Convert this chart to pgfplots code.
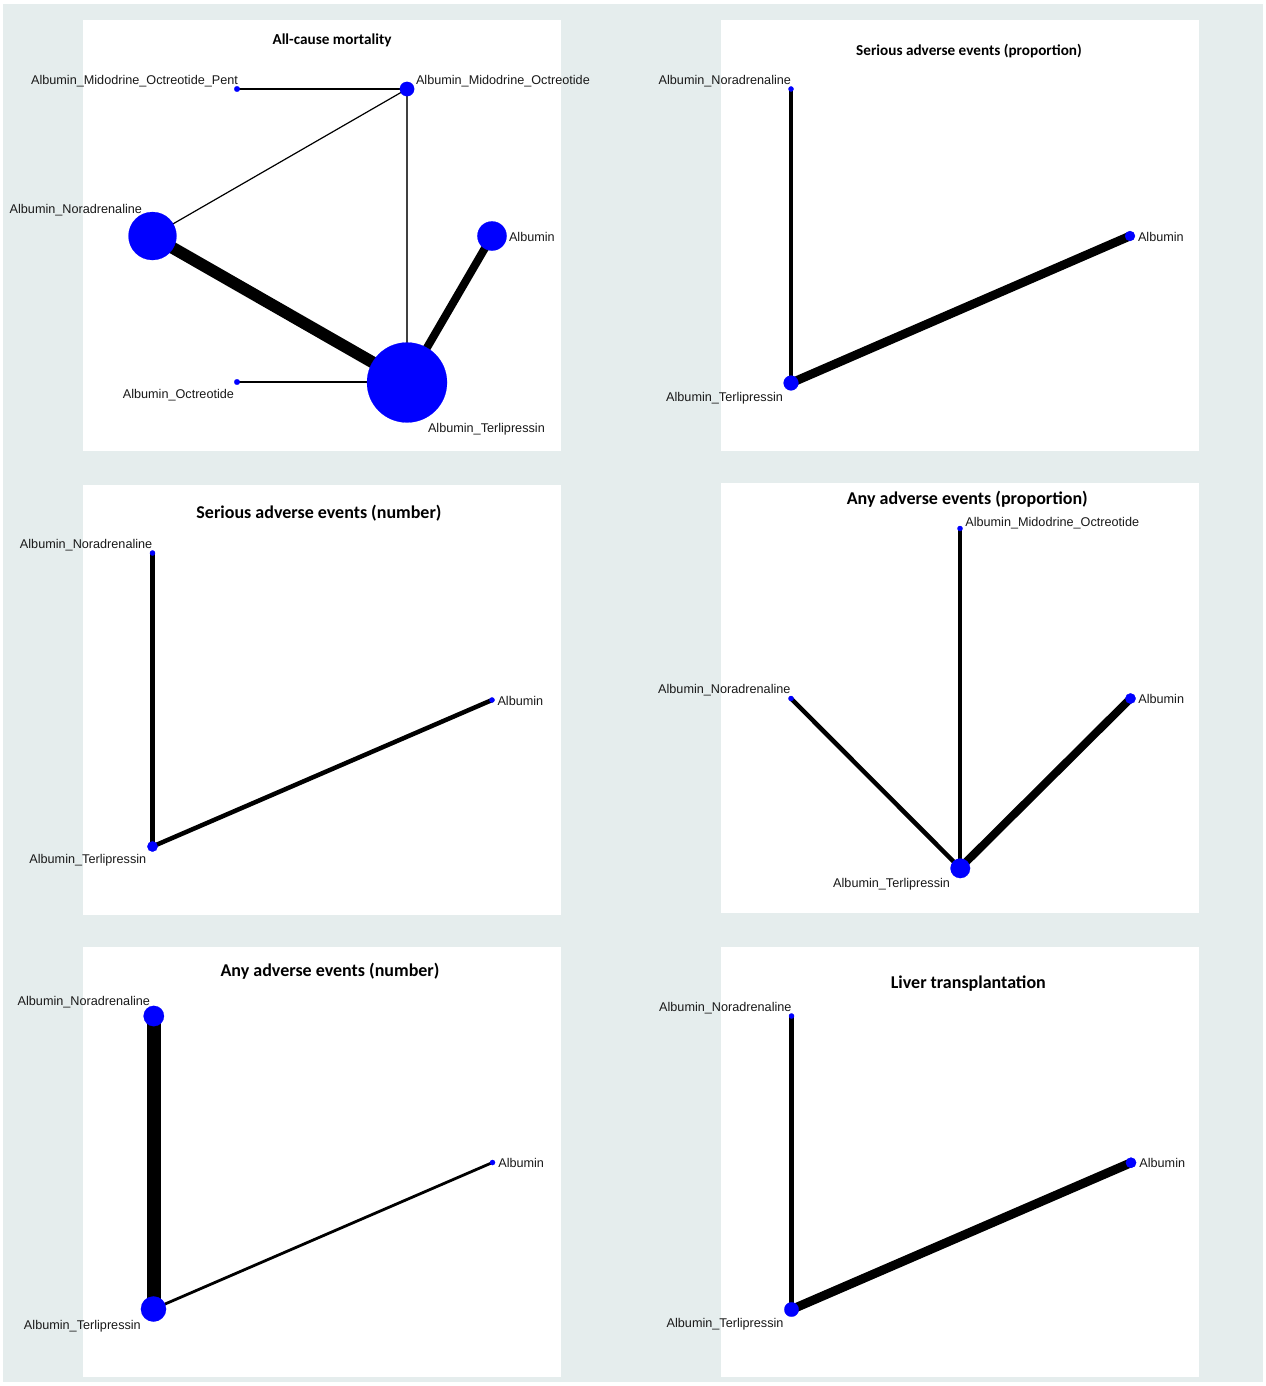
\documentclass[border=0pt]{standalone}
\usepackage{pgfplots}
\pgfplotsset{compat=1.18}
\usepackage{fontspec}
\setmainfont{Liberation Sans}
\newfontfamily\titlefont{Carlito}
\definecolor{bgc}{RGB}{229,237,237}
\definecolor{nodeblue}{RGB}{0,0,255}
\pgfplotsset{
  panel/.style={scale only axis, width=239pt, height=215.5pt, anchor=north west,
    y dir=reverse, clip=false, axis line style={draw=none}, xtick=\empty, ytick=\empty,
    axis background/.style={fill=white}},
  edge/.style={no markers, black, line cap=round, line width=#1},
  nd/.style={only marks, nodeblue, mark=*, mark options={draw=nodeblue, fill=nodeblue, line width=0.1pt}, mark size=#1},
}
\tikzset{
  lab/.style={inner sep=0pt, outer sep=0pt, font=\fontsize{6.33}{7}\selectfont, text=black!90},
  ttl/.style={inner sep=0pt, outer sep=0pt, anchor=base, font=\titlefont\bfseries\fontsize{#1}{10}\selectfont},
}
\begin{document}
\begin{tikzpicture}
\fill[white] (0pt,0pt) rectangle (632.5pt,-693pt);
\fill[bgc] (1.5pt,-2pt) rectangle (631.5pt,-691pt);

% Panel 1: All-cause mortality
\begin{axis}[panel, at={(41.5pt,-10pt)}, xmin=83, xmax=561, ymin=20, ymax=451]
\addplot[edge=0.75pt] coordinates {(237,89) (407,89)};
\addplot[edge=0.6pt] coordinates {(407,89) (152,236)};
\addplot[edge=0.6pt, black!75] coordinates {(407,89) (407,382)};
\addplot[edge=6pt] coordinates {(152,236) (407,382)};
\addplot[edge=4pt] coordinates {(492,236) (407,382)};
\addplot[edge=0.75pt] coordinates {(237,382) (407,382)};
\addplot[nd=1.4pt] coordinates {(237,89)};
\addplot[nd=3.6pt] coordinates {(407,89)};
\addplot[nd=12pt] coordinates {(152.5,236)};
\addplot[nd=7.3pt] coordinates {(492,236)};
\addplot[nd=1.4pt] coordinates {(237,382)};
\addplot[nd=20pt] coordinates {(407,382.5)};
\node[ttl=7.6] at (axis cs:332,44) {All-cause mortality};
\node[lab, anchor=base east] at (axis cs:238,84.5) {Albumin\_Midodrine\_Octreotide\_Pent};
\node[lab, anchor=base west] at (axis cs:416,84.5) {Albumin\_Midodrine\_Octreotide};
\node[lab, anchor=base east] at (axis cs:142,213.5) {Albumin\_Noradrenaline};
\node[lab, anchor=base west] at (axis cs:509,241) {Albumin};
\node[lab, anchor=base east] at (axis cs:234,398) {Albumin\_Octreotide};
\node[lab, anchor=base west] at (axis cs:428,432) {Albumin\_Terlipressin};
\end{axis}

% Panel 2: Serious adverse events (proportion)
\begin{axis}[panel, at={(360.5pt,-10pt)}, xmin=721, xmax=1199, ymin=20, ymax=451]
\addplot[edge=2.25pt] coordinates {(791,89) (791,383)};
\addplot[edge=4.4pt] coordinates {(1130,236) (791,383)};
\addplot[nd=1.3pt] coordinates {(791,89)};
\addplot[nd=2.5pt] coordinates {(1130,236)};
\addplot[nd=3.7pt] coordinates {(791,383)};
\node[ttl=7.6] at (axis cs:969,55) {Serious adverse events (proportion)};
\node[lab, anchor=base east] at (axis cs:791,84.5) {Albumin\_Noradrenaline};
\node[lab, anchor=base west] at (axis cs:1138,241) {Albumin};
\node[lab, anchor=base east] at (axis cs:783,401) {Albumin\_Terlipressin};
\end{axis}

% Panel 3: Serious adverse events (number)
\begin{axis}[panel, at={(41.5pt,-242.5pt)}, height=215pt, xmin=83, xmax=561, ymin=485, ymax=915]
\addplot[edge=2.25pt] coordinates {(152.5,553) (152.5,846.5)};
\addplot[edge=2.25pt] coordinates {(492,700) (152.5,846.5)};
\addplot[nd=1.3pt] coordinates {(152.5,553)};
\addplot[nd=1.3pt] coordinates {(492,700)};
\addplot[nd=2.6pt] coordinates {(152.5,846.5)};
\node[ttl=9] at (axis cs:319,518.5) {Serious adverse events (number)};
\node[lab, anchor=base east] at (axis cs:152.3,548.5) {Albumin\_Noradrenaline};
\node[lab, anchor=base west] at (axis cs:497.5,705) {Albumin};
\node[lab, anchor=base east] at (axis cs:146.2,863) {Albumin\_Terlipressin};
\end{axis}

% Panel 4: Any adverse events (proportion)
\begin{axis}[panel, at={(360.5pt,-241.5pt)}, height=215pt, xmin=721, xmax=1199, ymin=483, ymax=913]
\addplot[edge=2.25pt] coordinates {(960,528.5) (960,868)};
\addplot[edge=2.25pt] coordinates {(791,698.5) (960,868)};
\addplot[edge=4pt] coordinates {(1130.5,698.5) (960,868)};
\addplot[nd=1.3pt] coordinates {(960,528.5)};
\addplot[nd=1.3pt] coordinates {(791,698.5)};
\addplot[nd=2.6pt] coordinates {(1130.5,698.5)};
\addplot[nd=4.9pt] coordinates {(960.3,868.3)};
\node[ttl=9] at (axis cs:967.3,504) {Any adverse events (proportion)};
\node[lab, anchor=base west] at (axis cs:965.3,526) {Albumin\_Midodrine\_Octreotide};
\node[lab, anchor=base east] at (axis cs:790.5,693.5) {Albumin\_Noradrenaline};
\node[lab, anchor=base west] at (axis cs:1138.3,703.5) {Albumin};
\node[lab, anchor=base east] at (axis cs:950,887) {Albumin\_Terlipressin};
\end{axis}

% Panel 5: Any adverse events (number)
\begin{axis}[panel, at={(41.5pt,-473.5pt)}, height=215pt, xmin=83, xmax=561, ymin=947, ymax=1377]
\addplot[edge=7pt] coordinates {(153.5,1016) (153.5,1309)};
\addplot[edge=1.4pt] coordinates {(492.5,1162.5) (153.5,1309)};
\addplot[nd=5.1pt] coordinates {(153.8,1016)};
\addplot[nd=1.3pt] coordinates {(492.5,1162.5)};
\addplot[nd=6.3pt] coordinates {(153.5,1309)};
\node[ttl=9] at (axis cs:330,976.5) {Any adverse events (number)};
\node[lab, anchor=base east] at (axis cs:150,1005) {Albumin\_Noradrenaline};
\node[lab, anchor=base west] at (axis cs:498.3,1167.8) {Albumin};
\node[lab, anchor=base east] at (axis cs:140.8,1329.5) {Albumin\_Terlipressin};
\end{axis}

% Panel 6: Liver transplantation
\begin{axis}[panel, at={(360.5pt,-473.5pt)}, height=215pt, xmin=721, xmax=1199, ymin=947, ymax=1377]
\addplot[edge=2.25pt] coordinates {(791.5,1016) (791.5,1309.5)};
\addplot[edge=4.5pt] coordinates {(1131,1162.7) (791.5,1309.5)};
\addplot[nd=1.3pt] coordinates {(791.5,1016)};
\addplot[nd=2.6pt] coordinates {(1131,1162.7)};
\addplot[nd=3.6pt] coordinates {(791.5,1309.5)};
\node[ttl=9] at (axis cs:968.3,988.5) {Liver transplantation};
\node[lab, anchor=base east] at (axis cs:791.5,1011) {Albumin\_Noradrenaline};
\node[lab, anchor=base west] at (axis cs:1139.4,1167.2) {Albumin};
\node[lab, anchor=base east] at (axis cs:783.5,1327.2) {Albumin\_Terlipressin};
\end{axis}
\end{tikzpicture}
\end{document}
